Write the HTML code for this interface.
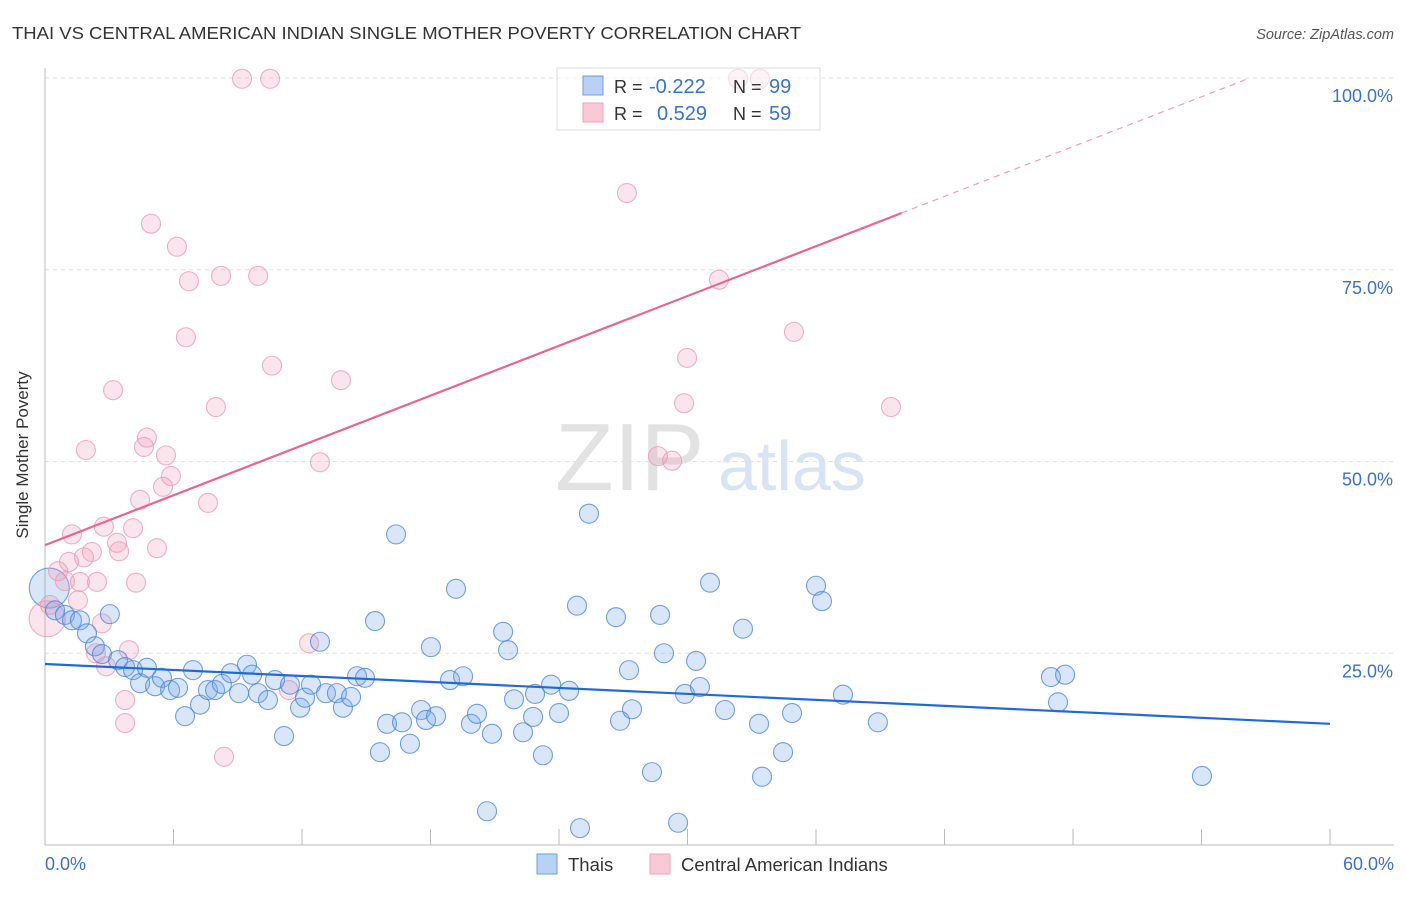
<!DOCTYPE html>
<html><head><meta charset="utf-8"><style>
body{margin:0;background:#fff;font-family:"Liberation Sans",sans-serif;}
svg text{font-family:"Liberation Sans",sans-serif;}
</style></head><body>
<svg id="chart" width="1406" height="892">
<text x="12" y="39" font-size="17.5" fill="#333" textLength="789" lengthAdjust="spacingAndGlyphs">THAI VS CENTRAL AMERICAN INDIAN SINGLE MOTHER POVERTY CORRELATION CHART</text>
<text x="1394" y="39" font-size="14.5" fill="#555" font-style="italic" text-anchor="end">Source: ZipAtlas.com</text>
<g id="grid"></g>
<text x="555" y="490" font-size="96" fill="#e2e2e2" font-family="Liberation Serif,serif">ZIP</text>
<text x="718" y="490" font-size="70" fill="#d6e4f6">atlas</text>
<g id="points"></g>
<g id="lines"></g>
<text x="28" y="455" font-size="17" fill="#333" text-anchor="middle" transform="rotate(-90 28 455)">Single Mother Poverty</text>
<text x="45" y="870" font-size="18" fill="#3a72cc">0.0%</text>
<text x="1394" y="870" font-size="18" fill="#3a72cc" text-anchor="end">60.0%</text>
<g>
<rect x="557" y="68" width="263" height="62" fill="#fff" fill-opacity="0.55" stroke="#ddd"/>
<rect x="583" y="76" width="20" height="19" fill="#b9d2f3" stroke="#6d9ce0"/>
<rect x="583" y="103" width="20" height="19" fill="#f9c9d6" stroke="#eea2ba"/>
<text x="614" y="93" font-size="18" fill="#333">R =</text>
<text x="649" y="93" font-size="20" fill="#3a72cc">-0.222</text>
<text x="733" y="93" font-size="18" fill="#333">N =</text>
<text x="769" y="93" font-size="20" fill="#3a72cc">99</text>
<text x="614" y="120" font-size="18" fill="#333">R =</text>
<text x="657" y="120" font-size="20" fill="#3a72cc">0.529</text>
<text x="733" y="120" font-size="18" fill="#333">N =</text>
<text x="769" y="120" font-size="20" fill="#3a72cc">59</text>
</g>
<g>
<rect x="537" y="854" width="20" height="20" fill="#b9d2f3" stroke="#6d9ce0"/>
<text x="568" y="871" font-size="18.5" fill="#333">Thais</text></g>
<g>
<rect x="650" y="854" width="20" height="20" fill="#f9c9d6" stroke="#eea2ba"/>
<text x="681" y="871" font-size="18.5" fill="#333">Central American Indians</text></g>
</svg>
<script>
const yTicks=[25,50,75,100];
const yTickLabels=["25.0%","50.0%","75.0%","100.0%"];
const xTicks=[0,6,12,18,24,30,36,42,48,54,60];
const thaiX=[0.47,0.93,1.26,1.63,1.96,2.33,2.66,3.03,3.41,3.74,4.11,4.44,4.76,5.14,5.46,5.84,6.21,6.54,6.91,7.24,7.61,7.94,8.26,8.68,9.06,9.43,9.67,9.95,10.41,10.74,11.16,11.44,11.91,12.14,12.42,12.84,13.12,13.63,13.91,14.29,14.57,14.94,15.41,15.64,15.97,16.39,16.67,17.04,17.56,17.79,18.02,18.26,18.91,19.19,19.52,19.89,20.17,20.64,20.87,21.39,21.62,21.90,22.32,22.79,22.88,23.25,23.63,24.00,24.47,24.84,24.98,25.40,26.66,26.85,27.27,27.41,28.34,28.72,28.90,29.56,29.88,30.40,30.58,31.05,31.75,32.59,33.34,33.48,34.46,34.88,36.00,36.28,37.26,38.89,46.97,47.30,47.63,54.02];
const thaiY=[30.6,30.0,29.3,29.3,27.6,25.9,24.9,30.1,24.1,23.2,22.8,21.1,23.1,20.7,21.8,20.2,20.5,16.8,22.8,18.3,20.2,20.2,21.0,22.4,19.8,23.5,22.2,19.8,18.9,21.5,14.2,20.9,17.9,19.2,20.9,26.5,19.8,19.8,17.9,19.3,22.0,21.8,29.2,12.1,15.8,40.5,16.0,13.2,17.6,16.3,25.8,16.8,21.5,33.4,22.0,15.8,17.1,4.4,14.5,27.8,25.4,19.0,14.7,16.7,19.7,11.7,20.9,17.2,20.1,31.2,2.2,43.2,29.7,16.2,22.8,17.7,9.5,30.0,25.0,2.9,19.7,24.0,20.6,34.2,17.6,28.2,15.8,8.9,12.1,17.2,33.8,31.8,19.6,16.0,21.9,18.6,22.2,9.0];
const camX=[9.20,10.51,32.36,33.38,27.17,4.95,6.16,6.72,8.22,9.95,6.58,31.47,34.97,10.60,29.98,13.82,3.18,7.98,29.84,39.50,4.76,4.62,5.65,1.91,12.84,28.62,29.28,5.88,5.51,4.44,7.61,2.75,1.26,4.11,3.36,2.19,3.46,5.23,1.82,1.12,0.61,0.93,1.63,2.43,4.25,1.54,0.23,2.66,3.92,2.38,2.85,12.33,11.39,3.74,3.74,8.36];
const camY=[99.9,99.9,99.9,99.9,85.0,81.0,78.0,73.5,74.2,74.2,66.2,73.7,66.9,62.5,63.5,60.6,59.3,57.1,57.6,57.1,53.1,51.9,50.8,51.5,49.9,50.7,50.1,48.1,46.7,45.0,44.6,41.5,40.5,41.3,39.4,38.2,38.3,38.7,37.5,36.9,35.7,34.4,34.3,34.3,34.2,31.9,31.3,28.9,25.4,25.0,23.3,26.3,20.2,18.9,15.9,11.5];
const bigX=[0.2,0.1];
const bigY=[33.5,29.5];
const thaiTrend=[23.6,15.8];
const camTrend=[39.1,82.4];
const NS='http://www.w3.org/2000/svg';
const sx=v=>45+v*21.417, sy=v=>845-v*7.67;
function mk(t,a,p){const e=document.createElementNS(NS,t);for(const k in a)e.setAttribute(k,a[k]);p.appendChild(e);return e;}
const grid=document.getElementById('grid');
yTicks.forEach((t,i)=>{
 const l=mk('line',{x1:45,x2:1394,y1:sy(t),y2:sy(t),stroke:'#e0e0e0','stroke-dasharray':'4,4'},grid);
 
 
 const tx=mk('text',{x:1393,y:sy(t)+24,'font-size':18,fill:'#3a72cc','text-anchor':'end'},grid);
 tx.textContent=yTickLabels[i];
 
 
});
const ax=mk('line',{x1:45,x2:45,y1:68,y2:845,stroke:'#bbb'},grid);


const bx=mk('line',{x1:45,x2:1394,y1:845,y2:845,stroke:'#bbb'},grid);


xTicks.forEach(t=>{const l=mk('line',{x1:sx(t),x2:sx(t),y1:829,y2:845,stroke:'#bbb'},grid);
 
 });
const pts=document.getElementById('points');
function dot(x,y,r,cls){
 const c=mk('circle',{cx:sx(x),cy:sy(y),r:r,fill:cls==='thai'?'rgba(120,165,230,0.28)':'rgba(240,150,180,0.25)',stroke:cls==='thai'?'rgba(70,130,220,0.75)':'rgba(235,150,180,0.75)','stroke-width':1.1},pts);
 
 
}
dot(bigX[0],bigY[0],20,'thai');dot(bigX[1],bigY[1],18,'cam');
camX.forEach((x,i)=>dot(x,camY[i],9.5,'cam'));
thaiX.forEach((x,i)=>dot(x,thaiY[i],9.5,'thai'));
const ln=document.getElementById('lines');
const b=mk('line',{x1:sx(0),y1:sy(thaiTrend[0]),x2:sx(60),y2:sy(thaiTrend[1]),stroke:'#1f6ad8','stroke-width':2.2},ln);


const slope=(camTrend[1]-camTrend[0])/40;
const p=mk('line',{x1:sx(0),y1:sy(camTrend[0]),x2:sx(40),y2:sy(camTrend[1]),stroke:'#e8668f','stroke-width':2.2},ln);


const xEnd=(100-camTrend[0])/slope;
const pd=mk('line',{x1:sx(40),y1:sy(camTrend[1]),x2:sx(xEnd),y2:sy(100),stroke:'#eb9fb9','stroke-width':1.2,'stroke-dasharray':'6,5'},ln);


</script>
</body></html>
